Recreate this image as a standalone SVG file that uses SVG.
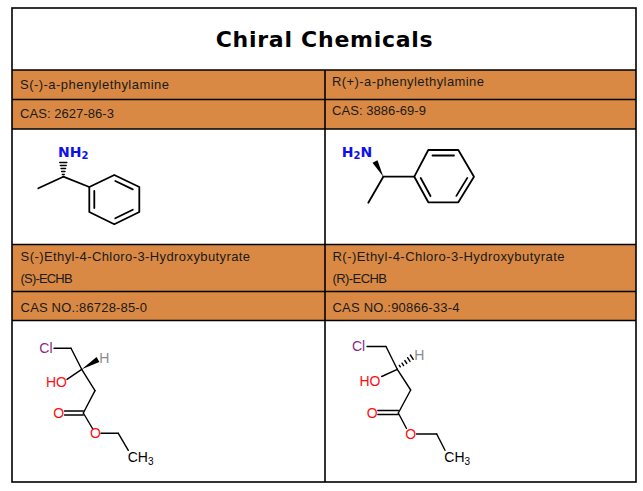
<svg xmlns="http://www.w3.org/2000/svg" width="643" height="491" viewBox="0 0 643 491">
<style>
.bg{fill:#ffffff}
.org{fill:#D98943}
.grid{stroke:#000;stroke-width:1.6;fill:none}
.cell{font-family:"Liberation Sans",Arial,sans-serif;font-size:13px;fill:#1a1a1a}
.title{font-family:"DejaVu Sans","Liberation Sans",sans-serif;font-size:22px;font-weight:bold;fill:#000}
.bd{stroke:#000;stroke-width:1.8;fill:none;stroke-linecap:round}
.be{stroke:#000;stroke-width:1.4;fill:none;stroke-linecap:round}
.amine{font-family:"DejaVu Sans",sans-serif;font-weight:bold;font-size:14px;fill:#1010F0}
.atom{font-family:"Liberation Sans",Arial,sans-serif;font-size:14px}
.sub{font-size:10px}
.cl{fill:#882A88}
.ox{fill:#FF0D0D}
.hy{fill:#8C8C8C}
.ca{fill:#000}
</style>
<rect class="bg" x="0" y="0" width="643" height="491"/>

<g id="table">
<rect class="org" x="12" y="70" width="624" height="59"/>
<rect class="org" x="12" y="244.5" width="624" height="76"/>
<rect class="grid" x="12" y="8" width="624" height="474"/>
<line class="grid" x1="12" y1="70" x2="636" y2="70"/>
<line class="grid" x1="12" y1="99.5" x2="636" y2="99.5"/>
<line class="grid" x1="12" y1="129" x2="636" y2="129"/>
<line class="grid" x1="12" y1="244.5" x2="636" y2="244.5"/>
<line class="grid" x1="12" y1="291.5" x2="636" y2="291.5"/>
<line class="grid" x1="12" y1="320.5" x2="636" y2="320.5"/>
<line class="grid" x1="325" y1="70" x2="325" y2="482"/>
</g>

<g id="title">
<text class="title" x="215.7" y="47.3" textLength="217" lengthAdjust="spacing">Chiral Chemicals</text>
</g>

<g id="cell-s-pea">
<text class="cell" x="20" y="89.3" textLength="149">S(-)-a-phenylethylamine</text>
<text class="cell" x="20" y="118.3" textLength="94">CAS: 2627-86-3</text>
</g>
<g id="cell-r-pea">
<text class="cell" x="332" y="86" textLength="152">R(+)-a-phenylethylamine</text>
<text class="cell" x="332" y="115" textLength="94">CAS: 3886-69-9</text>
</g>
<g id="cell-s-echb">
<text class="cell" x="20.6" y="260.7" textLength="229.5">S(-)Ethyl-4-Chloro-3-Hydroxybutyrate</text>
<text class="cell" x="20.6" y="283.3" textLength="52">(S)-ECHB</text>
<text class="cell" x="20.6" y="311.7" textLength="126.5">CAS NO.:86728-85-0</text>
</g>
<g id="cell-r-echb">
<text class="cell" x="332.5" y="260.7" textLength="232">R(-)Ethyl-4-Chloro-3-Hydroxybutyrate</text>
<text class="cell" x="332.5" y="283.3" textLength="54.5">(R)-ECHB</text>
<text class="cell" x="332.5" y="311.7" textLength="127">CAS NO.:90866-33-4</text>
</g>

<g id="struct-s-pea">
<text class="amine" x="58" y="156.7">NH<tspan class="sub" dy="2.5">2</tspan></text>
<g class="bd" style="stroke-width:1.3">
<line x1="62.3" y1="174.5" x2="64.3" y2="174.5"/>
<line x1="61.6" y1="171.5" x2="65" y2="171.5"/>
<line x1="61" y1="168.5" x2="65.6" y2="168.5"/>
<line x1="60.3" y1="165.5" x2="66.3" y2="165.5"/>
<line x1="59.7" y1="162.5" x2="66.9" y2="162.5"/>
</g>
<line class="bd" x1="63.3" y1="176.7" x2="38.3" y2="188.3"/>
<line class="bd" x1="63.3" y1="176.7" x2="89.3" y2="187"/>
<polygon class="bd" style="stroke-linejoin:round" points="114.3,175 139.3,187 139.3,212 114.3,224.3 89.3,212 89.3,187"/>
<line class="bd" x1="94.3" y1="191" x2="94.3" y2="208"/>
<line class="bd" x1="115.3" y1="181" x2="132.8" y2="189.4"/>
<line class="bd" x1="132.8" y1="209.7" x2="115.3" y2="218.3"/>
</g>

<g id="struct-r-pea">
<text class="amine" x="341.7" y="156.7">H<tspan class="sub" dy="2.5">2</tspan><tspan dy="-2.5">N</tspan></text>
<polygon fill="#000" points="383.3,176.7 372.5,162.8 377.5,160.2"/>
<line class="bd" x1="383.3" y1="176.7" x2="368.3" y2="202.7"/>
<line class="bd" x1="383.3" y1="176.7" x2="414.3" y2="176.7"/>
<polygon class="bd" style="stroke-linejoin:round" points="414.3,176.7 428.3,150 458.3,150 474,176.7 458.3,202.3 428.3,202.3"/>
<line class="bd" x1="432.5" y1="155.5" x2="454" y2="155.5"/>
<line class="bd" x1="467.3" y1="177.9" x2="456.4" y2="195.9"/>
<line class="bd" x1="420.7" y1="178" x2="430.5" y2="196"/>
</g>

<g id="struct-s-echb">
<text class="atom cl" x="39.3" y="353.3">Cl</text>
<line class="be" x1="54" y1="348.3" x2="71" y2="348.3"/>
<line class="be" x1="71" y1="348.3" x2="81.7" y2="369.3"/>
<polygon fill="#000" points="81.7,369.3 99.4,361.9 96.6,357.1"/>
<text class="atom hy" x="99.3" y="363.3">H</text>
<text class="atom ox" x="46" y="386.7">HO</text>
<line class="be" x1="67" y1="379.3" x2="81.7" y2="369.3"/>
<line class="be" x1="81.7" y1="369.3" x2="95" y2="390.7"/>
<line class="be" x1="95" y1="390.7" x2="83.3" y2="413"/>
<line class="be" x1="64.5" y1="411" x2="83.3" y2="411"/>
<line class="be" x1="64.5" y1="415" x2="83.3" y2="415"/>
<text class="atom ox" x="53.3" y="418.3">O</text>
<line class="be" x1="83.3" y1="413" x2="92.5" y2="428.5"/>
<text class="atom ox" x="90" y="438.3">O</text>
<line class="be" x1="101" y1="433.3" x2="118.3" y2="433.3"/>
<line class="be" x1="118.3" y1="433.3" x2="128.3" y2="450.3"/>
<text class="atom ca" x="127.7" y="461.7">CH<tspan class="sub" dy="2.8">3</tspan></text>
</g>

<g id="struct-r-echb">
<text class="atom cl" x="352" y="351">Cl</text>
<line class="be" x1="367" y1="346.5" x2="386" y2="346.5"/>
<line class="be" x1="386" y1="346.5" x2="397.3" y2="369.3"/>
<g class="be">
<line x1="400.3" y1="366.8" x2="399.3" y2="365.3"/>
<line x1="403.6" y1="365.6" x2="402" y2="363.2"/>
<line x1="406.8" y1="363.5" x2="404.8" y2="360.5"/>
<line x1="410" y1="361.4" x2="407.6" y2="357.7"/>
<line x1="413.2" y1="359.3" x2="410.4" y2="355"/>
</g>
<text class="atom hy" x="414.3" y="360">H</text>
<text class="atom ox" x="359.5" y="386.3">HO</text>
<line class="be" x1="381.7" y1="376.5" x2="397.3" y2="369.3"/>
<line class="be" x1="397.3" y1="369.3" x2="410.7" y2="390"/>
<line class="be" x1="410.7" y1="390" x2="398.3" y2="413"/>
<line class="be" x1="377.8" y1="410.5" x2="398.3" y2="410.5"/>
<line class="be" x1="377.8" y1="414.5" x2="398.3" y2="414.5"/>
<text class="atom ox" x="366.7" y="417.5">O</text>
<line class="be" x1="398.3" y1="413" x2="406.5" y2="428.5"/>
<text class="atom ox" x="405.3" y="439">O</text>
<line class="be" x1="416.5" y1="434" x2="436.7" y2="434"/>
<line class="be" x1="436.7" y1="434" x2="445" y2="450.3"/>
<text class="atom ca" x="444.3" y="461.7">CH<tspan class="sub" dy="2.8">3</tspan></text>
</g>
</svg>
